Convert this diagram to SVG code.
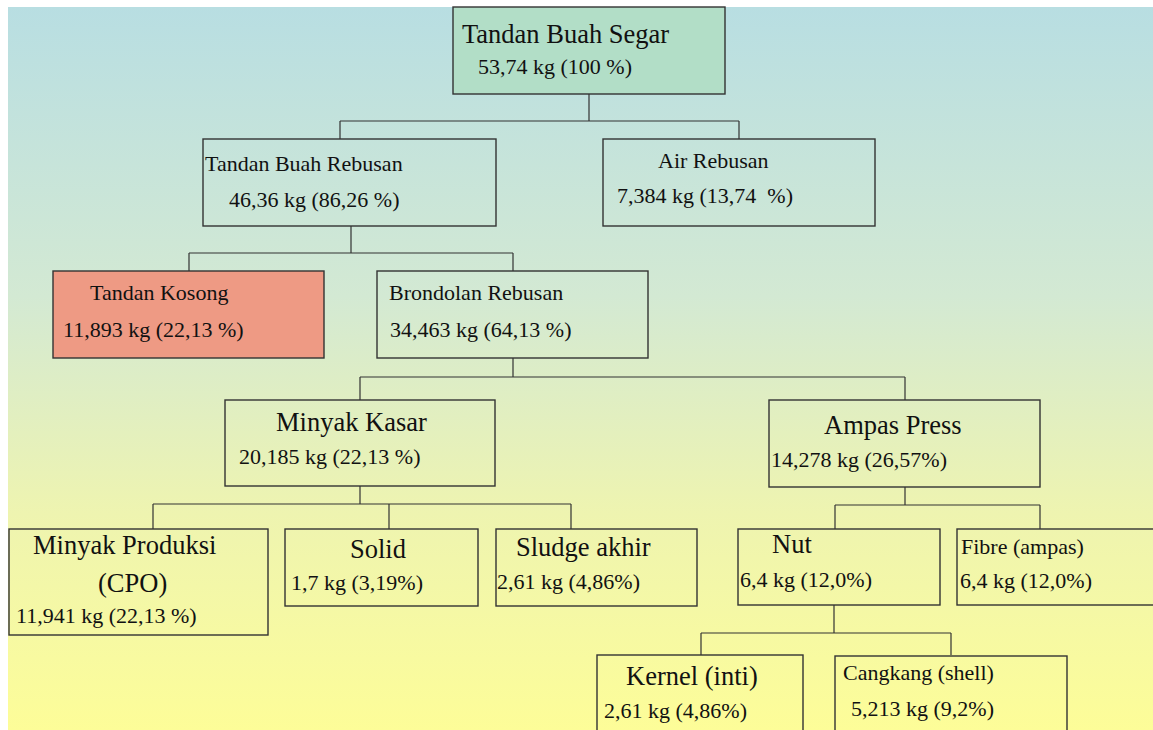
<svg xmlns="http://www.w3.org/2000/svg" width="1153" height="730" viewBox="0 0 1153 730">
<defs>
<linearGradient id="bg" x1="0" y1="0" x2="0" y2="1">
<stop offset="0" stop-color="#b8dee2"/>
<stop offset="0.4" stop-color="#d3e9d3"/>
<stop offset="0.7" stop-color="#eef4b0"/>
<stop offset="1" stop-color="#fdfd98"/>
</linearGradient>
<style>
.box{fill:none;stroke:#333;stroke-width:1.4}
.big{font-family:"Liberation Serif","Times New Roman",serif;font-size:26.5px;fill:#111}
.sm{font-family:"Liberation Serif","Times New Roman",serif;font-size:22px;fill:#111}
#connectors path{fill:none;stroke:#333;stroke-width:1.2}
</style>
</defs>
<rect x="0" y="0" width="1153" height="730" fill="#ffffff"/>
<rect x="8" y="7" width="1145" height="723" fill="url(#bg)"/>
<g id="connectors">
<path d="M589,94 V121 M340,121 H739 M340,121 V139 M739,121 V139"/>
<path d="M351,226 V253 M189,253 H513 M189,253 V271 M513,253 V271"/>
<path d="M513,358 V377 M360,377 H905 M360,377 V400 M905,377 V400"/>
<path d="M360,486 V504 M153,504 H571 M153,504 V529 M389,504 V529 M571,504 V529"/>
<path d="M905,487 V505 M835,505 H1040 M835,505 V529 M1040,505 V529"/>
<path d="M834,605 V633 M701,633 H951 M701,633 V655 M951,633 V655"/>
</g>
<g id="tbs">
<rect class="box" x="453" y="7" width="272" height="87" style="fill:#b2dec7"/>
<text class="big" x="462" y="43">Tandan Buah Segar</text>
<text class="sm" x="478" y="74">53,74 kg (100 %)</text>
</g>
<g id="tbr">
<rect class="box" x="203" y="139" width="293" height="87"/>
<text class="sm" x="205" y="171">Tandan Buah Rebusan</text>
<text class="sm" x="229" y="207">46,36 kg (86,26 %)</text>
</g>
<g id="air">
<rect class="box" x="603" y="139" width="272" height="87"/>
<text class="sm" x="658" y="168">Air Rebusan</text>
<text class="sm" x="617" y="203" style="white-space:pre">7,384 kg (13,74  %)</text>
</g>
<g id="tk">
<rect class="box" x="53" y="271" width="271" height="87" style="fill:#ee9a84"/>
<text class="sm" x="90" y="300">Tandan Kosong</text>
<text class="sm" x="63" y="337">11,893 kg (22,13 %)</text>
</g>
<g id="br">
<rect class="box" x="377" y="271" width="271" height="87"/>
<text class="sm" x="389" y="300">Brondolan Rebusan</text>
<text class="sm" x="390" y="337">34,463 kg (64,13 %)</text>
</g>
<g id="mk">
<rect class="box" x="225" y="400" width="270" height="86"/>
<text class="big" x="276" y="431">Minyak Kasar</text>
<text class="sm" x="239" y="464">20,185 kg (22,13 %)</text>
</g>
<g id="ap">
<rect class="box" x="769" y="400" width="271" height="87"/>
<text class="big" x="824" y="434">Ampas Press</text>
<text class="sm" x="771" y="467">14,278 kg (26,57%)</text>
</g>
<g id="mp">
<rect class="box" x="9" y="529" width="259" height="106"/>
<text class="big" x="33" y="554">Minyak Produksi</text>
<text class="big" x="98" y="592">(CPO)</text>
<text class="sm" x="16" y="623">11,941 kg (22,13 %)</text>
</g>
<g id="solid">
<rect class="box" x="285" y="529" width="193" height="77"/>
<text class="big" x="350" y="558">Solid</text>
<text class="sm" x="291" y="590">1,7 kg (3,19%)</text>
</g>
<g id="sludge">
<rect class="box" x="496" y="529" width="201" height="77"/>
<text class="big" x="516" y="556">Sludge akhir</text>
<text class="sm" x="497" y="589">2,61 kg (4,86%)</text>
</g>
<g id="nut">
<rect class="box" x="738" y="529" width="202" height="76"/>
<text class="big" x="772" y="553">Nut</text>
<text class="sm" x="740" y="587">6,4 kg (12,0%)</text>
</g>
<g id="fibre">
<rect class="box" x="957" y="529" width="210" height="76"/>
<text class="sm" x="961" y="554">Fibre (ampas)</text>
<text class="sm" x="960" y="588">6,4 kg (12,0%)</text>
</g>
<g id="kernel">
<rect class="box" x="597" y="655" width="206" height="90"/>
<text class="big" x="626" y="685">Kernel (inti)</text>
<text class="sm" x="604" y="718">2,61 kg (4,86%)</text>
</g>
<g id="cangkang">
<rect class="box" x="835" y="656" width="232" height="90"/>
<text class="sm" x="843" y="680">Cangkang (shell)</text>
<text class="sm" x="851" y="716">5,213 kg (9,2%)</text>
</g>
</svg>
